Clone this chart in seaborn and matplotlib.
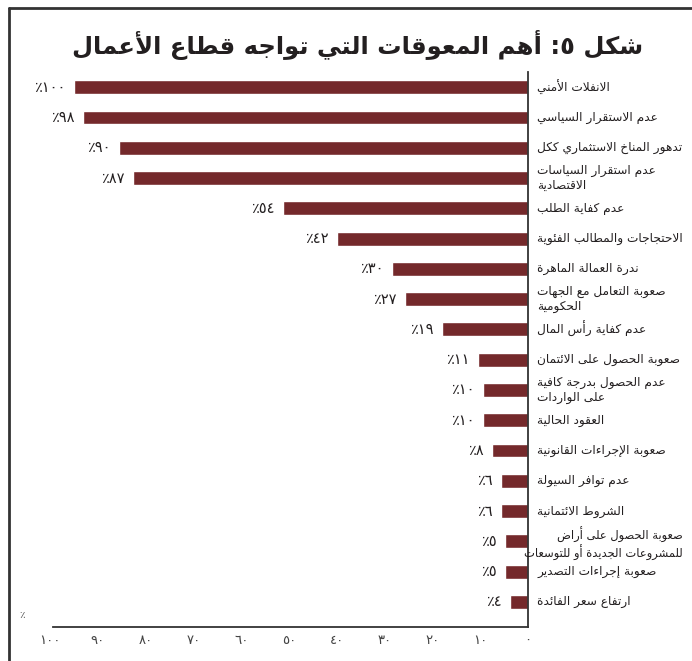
import matplotlib
matplotlib.use("Agg")
import matplotlib.pyplot as plt
from matplotlib.lines import Line2D
import seaborn as sns
import pandas as pd

# data
categories = [
    "الانفلات الأمني",
    "عدم الاستقرار السياسي",
    "تدهور المناخ الاستثماري ككل",
    "عدم استقرار السياسات\nالاقتصادية",
    "عدم كفاية الطلب",
    "الاحتجاجات والمطالب الفئوية",
    "ندرة العمالة الماهرة",
    "صعوبة التعامل مع الجهات\nالحكومية",
    "عدم كفاية رأس المال",
    "صعوبة الحصول على الائتمان",
    "عدم الحصول بدرجة كافية\nعلى الواردات",
    "العقود الحالية",
    "صعوبة الإجراءات القانونية",
    "عدم توافر السيولة",
    "الشروط الائتمانية",
    "صعوبة الحصول على أراض\nللمشروعات الجديدة أو للتوسعات",
    "صعوبة إجراءات التصدير",
    "ارتفاع سعر الفائدة",
]
values = [100, 98, 90, 87, 54, 42, 30, 27, 19, 11, 10, 10, 8, 6, 6, 5, 5, 4]
tick_values = [0, 10, 20, 30, 40, 50, 60, 70, 80, 90, 100]
title = "شكل ٥: أهم المعوقات التي تواجه قطاع الأعمال"

BAR_COLOR = "#74292b"
TEXT_COLOR = "#231f20"
# the printed tick scale in the original is slightly wider than the bar scale
TICK_STRETCH = 1.053

AR_DIGITS = str.maketrans("0123456789", "٠١٢٣٤٥٦٧٨٩")

# minimal arabic shaping (matplotlib draws glyphs one by one, left to right)
FORMS = {
    "ء": (0xFE80, 1), "آ": (0xFE81, 2), "أ": (0xFE83, 2), "ؤ": (0xFE85, 2),
    "إ": (0xFE87, 2), "ئ": (0xFE89, 4), "ا": (0xFE8D, 2), "ب": (0xFE8F, 4),
    "ة": (0xFE93, 2), "ت": (0xFE95, 4), "ث": (0xFE99, 4), "ج": (0xFE9D, 4),
    "ح": (0xFEA1, 4), "خ": (0xFEA5, 4), "د": (0xFEA9, 2), "ذ": (0xFEAB, 2),
    "ر": (0xFEAD, 2), "ز": (0xFEAF, 2), "س": (0xFEB1, 4), "ش": (0xFEB5, 4),
    "ص": (0xFEB9, 4), "ض": (0xFEBD, 4), "ط": (0xFEC1, 4), "ظ": (0xFEC5, 4),
    "ع": (0xFEC9, 4), "غ": (0xFECD, 4), "ف": (0xFED1, 4), "ق": (0xFED5, 4),
    "ك": (0xFED9, 4), "ل": (0xFEDD, 4), "م": (0xFEE1, 4), "ن": (0xFEE5, 4),
    "ه": (0xFEE9, 4), "و": (0xFEED, 2), "ى": (0xFEEF, 2), "ي": (0xFEF1, 4),
}
LAM_ALEF = {"آ": 0xFEF5, "أ": 0xFEF7, "إ": 0xFEF9, "ا": 0xFEFB}


def shape_line(text):
    out = []
    prev_joins = False
    i = 0
    while i < len(text):
        c = text[i]
        if c == "ل" and i + 1 < len(text) and text[i + 1] in LAM_ALEF:
            out.append(chr(LAM_ALEF[text[i + 1]] + (1 if prev_joins else 0)))
            prev_joins = False
            i += 2
            continue
        if c in FORMS:
            base, n = FORMS[c]
            nxt = text[i + 1] if i + 1 < len(text) else ""
            fwd = n == 4 and nxt in FORMS and FORMS[nxt][1] > 1
            back = prev_joins and n > 1
            if n == 4:
                off = 3 if (back and fwd) else 1 if back else 2 if fwd else 0
            elif n == 2:
                off = 1 if back else 0
            else:
                off = 0
            out.append(chr(base + off))
            prev_joins = n == 4
        else:
            out.append(c)
            prev_joins = False
        i += 1
    return "".join(reversed(out))


def shape(text):
    return "\n".join(shape_line(t) for t in text.split("\n"))


df = pd.DataFrame({"label": categories, "value": values})

sns.set_theme(style="white")
plt.rcParams["font.family"] = ["DejaVu Sans"]

fig = plt.figure(figsize=(6.92, 6.61), dpi=100)
ax = fig.add_axes([0.0643, 0.0514, 0.6987, 0.8396])

sns.barplot(data=df, x="value", y="label", orient="h", color=BAR_COLOR,
            saturation=1, width=0.46, ax=ax)

ax.set_xlim(106.5, 0)
ax.set_ylim(len(values) - 1 + 0.83, -0.5)

for i, v in enumerate(values):
    ax.annotate("٪" + str(v).translate(AR_DIGITS), xy=(v, i), xytext=(-6, 0),
                textcoords="offset points", ha="right", va="center",
                fontsize=10.5, color=TEXT_COLOR)

# category names to the right of the axis line
ytrans = ax.get_yaxis_transform()
for i, c in enumerate(categories):
    lines = c.split("\n")
    if len(lines) > 1 and len(lines[1]) > len(lines[0]):
        # long second line: right aligned, spills a bit to the left like the print
        ax.text(1.3206, i + 0.08, shape(c), transform=ytrans, ha="right",
                va="center", multialignment="right", fontsize=8.3,
                color=TEXT_COLOR, linespacing=1.15)
    else:
        ax.text(1.019, i, shape(c), transform=ytrans, ha="left", va="center",
                multialignment="left", fontsize=8.7, color=TEXT_COLOR,
                linespacing=1.15)
ax.set_yticks([])

ax.set_xticks([t * TICK_STRETCH for t in tick_values])
ax.set_xticklabels([str(t).translate(AR_DIGITS) for t in tick_values],
                   fontsize=9.5, color="#444444")
ax.tick_params(axis="x", length=0, pad=5)
ax.set_xlabel("")
ax.set_ylabel("")

for side in ["left", "top"]:
    ax.spines[side].set_visible(False)
for side in ["right", "bottom"]:
    ax.spines[side].set_color("#333333")
    ax.spines[side].set_linewidth(1.3)
ax.spines["bottom"].set_bounds(104.6, 0)

fig.text(22 / 692, 1 - 615 / 661, "٪", fontsize=7.5, color="#555555",
         ha="center", va="center")

fig.text(0.516, 1 - 45 / 661, shape(title), fontsize=17.5, fontweight="bold",
         color=TEXT_COLOR, ha="center", va="center")

# frame lines on top and left
fig.add_artist(Line2D([9 / 692, 1], [1 - 8 / 661] * 2, transform=fig.transFigure,
                      color="#333333", lw=2))
fig.add_artist(Line2D([9 / 692] * 2, [0, 1 - 8 / 661], transform=fig.transFigure,
                      color="#333333", lw=2))

fig.savefig("out.png", dpi=100)
